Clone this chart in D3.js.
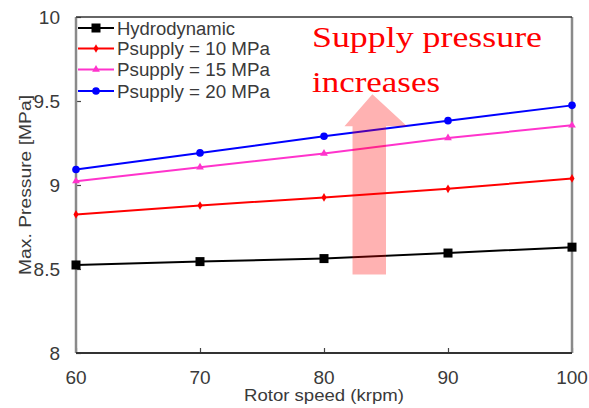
<!DOCTYPE html>
<html>
<head>
<meta charset="utf-8">
<script src="https://cdn.jsdelivr.net/npm/d3@7"></script>
<style>
  html, body { margin: 0; padding: 0; background: #fff; }
  svg { display: block; }
</style>
</head>
<body>
<svg id="chart" width="589" height="408"></svg>
<script>
// Rotor speed (krpm)
const speeds = [60, 70, 80, 90, 100];
// Max. pressure (MPa) for each case
const hydrodynamic = [8.524, 8.544, 8.562, 8.595, 8.630];
const psupply10 = [8.825, 8.878, 8.926, 8.977, 9.039];
const psupply15 = [9.023, 9.106, 9.187, 9.280, 9.355];
const psupply20 = [9.092, 9.191, 9.290, 9.383, 9.474];
const seriesNames = ["Hydrodynamic", "Psupply = 10 MPa", "Psupply = 15 MPa", "Psupply = 20 MPa"];
const xTicks = [60, 70, 80, 90, 100];
const yTicks = [8, 8.5, 9, 9.5, 10];
const yTickLabels = ["8", "8.5", "9", "9.5", "10"];

const series = [
  { name: seriesNames[0], values: hydrodynamic, color: "#000000", marker: "square" },
  { name: seriesNames[1], values: psupply10, color: "#ff0000", marker: "diamond" },
  { name: seriesNames[2], values: psupply15, color: "#ff33cc", marker: "triangle" },
  { name: seriesNames[3], values: psupply20, color: "#0000ff", marker: "circle" }
];

const svg = d3.select("#chart");
const plotL = 76, plotR = 572, plotT = 17, plotB = 353;

const x = d3.scaleLinear().domain([60, 100]).range([plotL, plotR]);
const y = d3.scaleLinear().domain([8, 10]).range([plotB, plotT]);

const font = "'Liberation Sans', Arial, sans-serif";
const textColor = "#3a3a3a";

// inward ticks
svg.append("g")
  .attr("transform", `translate(0,${plotB})`)
  .call(d3.axisBottom(x).tickValues(xTicks).tickSize(-5).tickFormat(""))
  .call(g => g.select(".domain").remove())
  .call(g => g.selectAll("line").attr("stroke", "#444").attr("stroke-width", 1.2));
svg.append("g")
  .attr("transform", `translate(${plotL},0)`)
  .call(d3.axisLeft(y).tickValues(yTicks).tickSize(-5).tickFormat(""))
  .call(g => g.select(".domain").remove())
  .call(g => g.selectAll("line").attr("stroke", "#444").attr("stroke-width", 1.2));

// frame
svg.append("line").attr("x1", plotL).attr("x2", plotL).attr("y1", plotT).attr("y2", plotB)
  .attr("stroke", "#8a8a8a").attr("stroke-width", 2.5);
svg.append("line").attr("x1", plotR).attr("x2", plotR).attr("y1", plotT).attr("y2", plotB)
  .attr("stroke", "#8a8a8a").attr("stroke-width", 2.5);
svg.append("line").attr("x1", plotL).attr("x2", plotR).attr("y1", plotB).attr("y2", plotB)
  .attr("stroke", "#333").attr("stroke-width", 2);
svg.append("line").attr("x1", plotL).attr("x2", plotR).attr("y1", plotT).attr("y2", plotT)
  .attr("stroke", "#333").attr("stroke-width", 1.5);

// tick labels
svg.append("g").selectAll("text").data(xTicks).join("text")
  .attr("x", d => x(d)).attr("y", 384)
  .attr("text-anchor", "middle")
  .attr("font-family", font).attr("font-size", 19).attr("fill", textColor)
  .text(d => d);
svg.append("g").selectAll("text").data(yTicks).join("text")
  .attr("x", 60).attr("y", d => y(d) + 7)
  .attr("text-anchor", "end")
  .attr("font-family", font).attr("font-size", 19).attr("fill", textColor)
  .text((d, i) => yTickLabels[i]);

// axis titles
svg.append("text")
  .attr("x", (plotL + plotR) / 2).attr("y", 401)
  .attr("text-anchor", "middle")
  .attr("font-family", font).attr("font-size", 17).attr("fill", textColor)
  .attr("textLength", 160).attr("lengthAdjust", "spacingAndGlyphs")
  .text("Rotor speed (krpm)");
svg.append("text")
  .attr("transform", `translate(31,185) rotate(-90)`)
  .attr("text-anchor", "middle")
  .attr("font-family", font).attr("font-size", 17).attr("fill", textColor)
  .attr("textLength", 180).attr("lengthAdjust", "spacingAndGlyphs")
  .text("Max. Pressure [MPa]");

// marker shapes
function marker(g, type, color) {
  if (type === "square") {
    g.append("rect").attr("x", -4.5).attr("y", -4.5).attr("width", 9).attr("height", 9).attr("fill", color);
  } else if (type === "circle") {
    g.append("circle").attr("r", 3.8).attr("fill", color);
  } else if (type === "diamond") {
    g.append("path").attr("d", d3.symbol(d3.symbolDiamond, 22)()).attr("fill", color);
  } else {
    g.append("path").attr("d", d3.symbol(d3.symbolTriangle, 26)()).attr("fill", color);
  }
}

const line = d3.line().x((d, i) => x(speeds[i])).y(d => y(d));

series.forEach(s => {
  svg.append("path")
    .attr("d", line(s.values))
    .attr("fill", "none").attr("stroke", s.color).attr("stroke-width", 2);
  s.values.forEach((v, i) => {
    const g = svg.append("g").attr("transform", `translate(${x(speeds[i])},${y(v)})`);
    marker(g, s.marker, s.color);
  });
});

// legend
const legendRows = [28, 48.5, 69.5, 91];
const legendWidths = [118, 153, 153, 153];
series.forEach((s, i) => {
  const ly = legendRows[i];
  svg.append("line").attr("x1", 78).attr("x2", 114).attr("y1", ly).attr("y2", ly)
    .attr("stroke", s.color).attr("stroke-width", 2);
  const g = svg.append("g").attr("transform", `translate(96,${ly})`);
  marker(g, s.marker, s.color);
  svg.append("text")
    .attr("x", 117).attr("y", ly + 6.5)
    .attr("font-family", font).attr("font-size", 18).attr("fill", textColor)
    .attr("textLength", legendWidths[i]).attr("lengthAdjust", "spacingAndGlyphs")
    .text(s.name);
});

// annotation arrow
const ax0 = x(82.3), ax1 = x(85), hx0 = x(81.65), hx1 = x(86.7), tipX = x(83.9);
const arrowPts = [
  [ax0, y(8.468)], [ax0, y(9.35)], [hx0, y(9.35)], [tipX, y(9.54)],
  [hx1, y(9.35)], [ax1, y(9.35)], [ax1, y(8.468)]
];
svg.append("path")
  .attr("d", d3.line()(arrowPts) + "Z")
  .attr("fill", "#ff0000").attr("fill-opacity", 0.3);

svg.append("text")
  .attr("x", 312).attr("y", 47)
  .attr("font-family", "'Liberation Serif', 'Times New Roman', serif")
  .attr("font-size", 29).attr("fill", "#ff0000")
  .attr("textLength", 230).attr("lengthAdjust", "spacingAndGlyphs")
  .text("Supply pressure");
svg.append("text")
  .attr("x", 312).attr("y", 92)
  .attr("font-family", "'Liberation Serif', 'Times New Roman', serif")
  .attr("font-size", 29).attr("fill", "#ff0000")
  .attr("textLength", 128).attr("lengthAdjust", "spacingAndGlyphs")
  .text("increases");
</script>
</body>
</html>
